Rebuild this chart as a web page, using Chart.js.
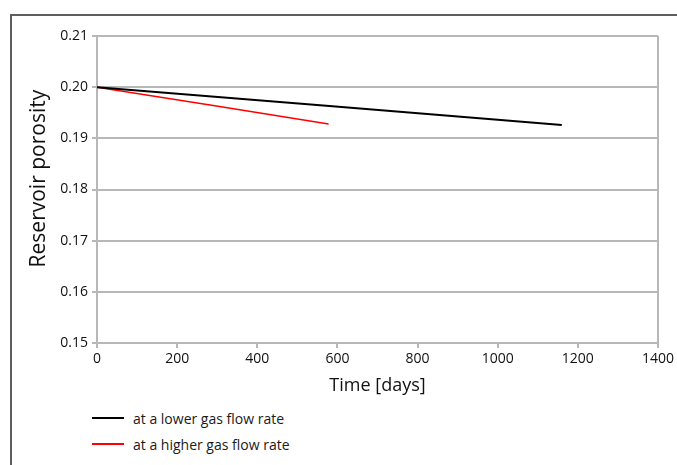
<!DOCTYPE html>
<html>
<head>
<meta charset="utf-8">
<script src="https://cdn.jsdelivr.net/npm/chart.js@4/dist/chart.umd.min.js"></script>
<style>
  body { margin: 0; background: #fff; }
  #wrap { position: relative; width: 677px; height: 465px; overflow: hidden; }
  #frame { position: absolute; left: 10px; top: 14px; width: 700px; height: 500px;
           border-top: 2px solid #5f5f5f; border-left: 2px solid #5f5f5f; }
  #box { position: absolute; left: 0; top: 0; width: 677px; height: 400px; }
  #legend { position: absolute; left: 92px; top: 405px; font-family: "Open Sans"; font-size: 14px; color: #1a1a1a; }
  .item { display: flex; align-items: center; height: 26px; }
  .swatch { width: 32px; height: 2px; margin-right: 9px; }
</style>
</head>
<body>
<div id="wrap">
  <div id="frame"></div>
  <div id="box"><canvas id="chart"></canvas></div>
  <div id="legend"></div>
</div>
<script>
const seriesNames = ["at a lower gas flow rate", "at a higher gas flow rate"];
const seriesColors = ["#000000", "#ff0000"];
// time [days] and porosity
const lowDays = [0, 580, 1160];
const lowPorosity = [0.2, 0.1963, 0.1926];
const highDays = [0, 290, 578];
const highPorosity = [0.2, 0.1964, 0.1928];

const pts = (xs, ys) => xs.map((x, i) => ({ x: x, y: ys[i] }));
const gridGrey = "#b8b8b8";
const font = "'Open Sans'";

const chart = new Chart(document.getElementById("chart"), {
  type: "line",
  data: {
    datasets: [
      { label: seriesNames[0], data: pts(lowDays, lowPorosity), borderColor: seriesColors[0], borderWidth: 2, pointRadius: 0 },
      { label: seriesNames[1], data: pts(highDays, highPorosity), borderColor: seriesColors[1], borderWidth: 1.5, pointRadius: 0 },
    ],
  },
  options: {
    responsive: true,
    maintainAspectRatio: false,
    animation: false,
    layout: { padding: { left: 0, top: 36, right: 18, bottom: 0 } },
    plugins: { legend: { display: false }, tooltip: { enabled: false } },
    scales: {
      x: {
        type: "linear",
        min: 0,
        max: 1400,
        afterFit: (s) => { s.height = 57; },
        ticks: { stepSize: 200, color: "#111", font: { family: font, size: 14 }, padding: 3, maxRotation: 0, callback: (v) => String(v) },
        grid: {
          color: (c) => (c.tick && c.tick.value === 1400 ? gridGrey : "transparent"),
          tickColor: gridGrey,
          tickLength: 5,
          lineWidth: 2,
        },
        border: { color: gridGrey, width: 2 },
        title: { display: true, text: "Time [days]", color: "#111", font: { family: font, size: 18 }, padding: { top: 0, bottom: 3 } },
      },
      y: {
        min: 0.15,
        max: 0.21,
        afterFit: (s) => { s.width = 97; },
        ticks: { stepSize: 0.01, color: "#111", font: { family: font, size: 14 }, padding: 4, callback: (v) => v.toFixed(2) },
        grid: { color: gridGrey, tickColor: gridGrey, tickLength: 5, lineWidth: 2 },
        border: { color: gridGrey, width: 2 },
        title: { display: true, text: "    Reservoir porosity", color: "#111", font: { family: font, size: 21 }, padding: { top: 26, bottom: 0 } },
      },
    },
  },
});

// legend below the chart, one entry per line
const legend = document.getElementById("legend");
chart.data.datasets.forEach((ds) => {
  legend.innerHTML += `<div class="item"><span class="swatch" style="background:${ds.borderColor}"></span>${ds.label}</div>`;
});
</script>
</body>
</html>
